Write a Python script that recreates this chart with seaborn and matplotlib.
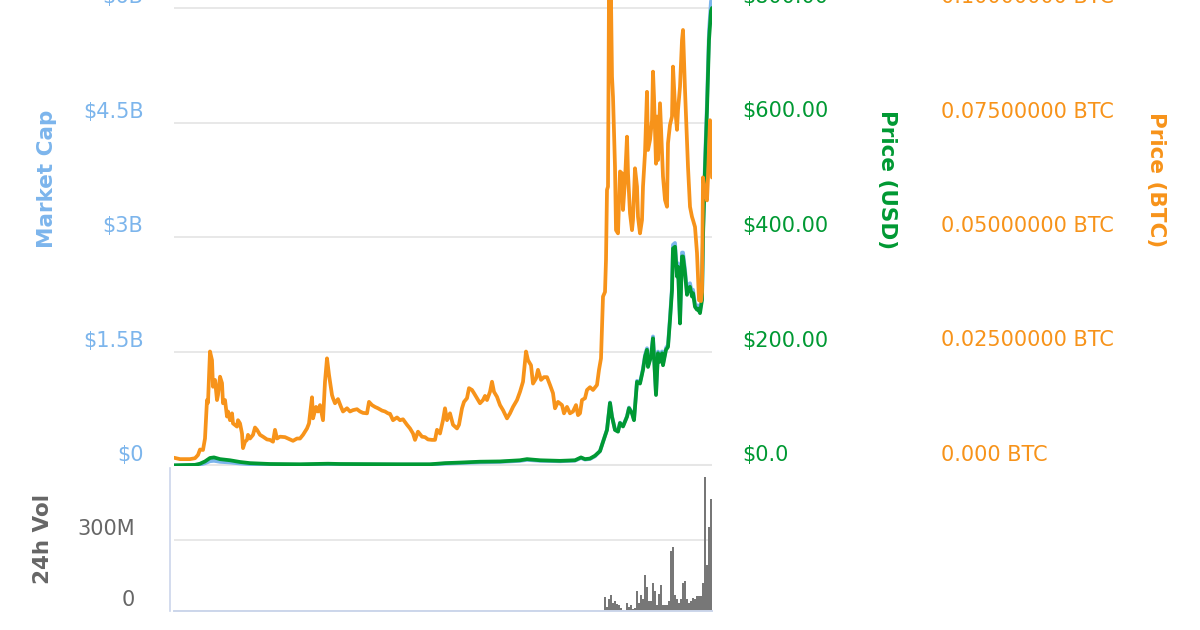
import pandas as pd
import numpy as np
import matplotlib
matplotlib.use('Agg')
import matplotlib.pyplot as plt
import matplotlib.transforms as mtransforms
import seaborn as sns

# time axis: day offsets from the first record
START = pd.Timestamp('2014-02-14')
END_DAY = 1345

# Price (BTC)
btc_days = [0, 15, 27.5, 40, 52.5, 60, 65, 72.5, 77.5, 82.5, 85, 90, 95, 97.5, 102.5, 107.5, 110,
            115, 120, 122.5, 127.5, 132.5, 135, 140, 145, 147.5, 157.5, 160, 165, 170, 172.5,
            177.5, 182.5, 185, 190, 197.5, 202.5, 207.5, 215, 222.5, 232.5, 240, 247.5, 252.5,
            257.5, 265, 277.5, 290, 297.5, 307.5, 315, 322.5, 332.5, 337.5, 345, 347.5, 355,
            360, 365, 372.5, 377.5, 382.5, 387.5, 395, 397.5, 402.5, 410, 417.5, 422.5, 432.5,
            440, 447.5, 457.5, 465, 472.5, 482.5, 487.5, 495, 502.5, 510, 520, 527.5, 535, 540,
            547.5, 557.5, 565, 572.5, 582.5, 590, 597.5, 602.5, 610, 620, 627.5, 635, 645,
            652.5, 657.5, 665, 672.5, 677.5, 682.5, 690, 697.5, 707.5, 712.5, 720, 725, 732.5,
            737.5, 745, 750, 757.5, 765, 772.5, 777.5, 782.5, 790, 795, 800, 807.5, 815, 822.5,
            832.5, 840, 847.5, 857.5, 865, 872.5, 880, 885, 892.5, 897.5, 905, 910, 917.5, 925,
            932.5, 940, 947.5, 952.5, 960, 970, 975, 982.5, 990, 997.5, 1005, 1010, 1015, 1020,
            1027.5, 1032.5, 1040, 1047.5, 1057.5, 1062.5, 1067.5, 1072.5, 1077.5, 1080, 1082.5,
            1085, 1087.5, 1090, 1092.5, 1095, 1097.5, 1102.5, 1105, 1110, 1115, 1120, 1122.5,
            1127.5, 1132.5, 1135, 1140, 1145, 1147.5, 1152.5, 1157.5, 1160, 1165, 1170, 1172.5,
            1177.5, 1182.5, 1185, 1190, 1195, 1197.5, 1200, 1205, 1207.5, 1210, 1215, 1220,
            1222.5, 1227.5, 1232.5, 1235, 1240, 1245, 1247.5, 1252.5, 1257.5, 1260, 1265, 1270,
            1272.5, 1277.5, 1282.5, 1285, 1290, 1295, 1297.5, 1302.5, 1307.5, 1312.5, 1317.5,
            1320, 1322.5, 1327.5, 1332.5, 1335, 1340, 1342.5, 1345]
btc_price = [0.0018, 0.0015, 0.0015, 0.0015, 0.0017, 0.0024, 0.0036, 0.0035, 0.0060, 0.0144, 0.0138,
             0.0250, 0.0231, 0.0173, 0.0188, 0.0144, 0.0155, 0.0195, 0.0181, 0.0137, 0.0144,
             0.0108, 0.0119, 0.0100, 0.0115, 0.0093, 0.0086, 0.0100, 0.0093, 0.0071, 0.0039,
             0.0053, 0.0057, 0.0068, 0.0060, 0.0068, 0.0084, 0.0079, 0.0068, 0.0064, 0.0058,
             0.0057, 0.0053, 0.0079, 0.0060, 0.0064, 0.0063, 0.0058, 0.0055, 0.0060, 0.0060,
             0.0068, 0.0082, 0.0093, 0.0150, 0.0104, 0.0129, 0.0119, 0.0133, 0.0100, 0.0184,
             0.0235, 0.0199, 0.0155, 0.0148, 0.0137, 0.0146, 0.0129, 0.0119, 0.0126, 0.0119,
             0.0122, 0.0124, 0.0119, 0.0116, 0.0115, 0.0140, 0.0133, 0.0129, 0.0126, 0.0121,
             0.0119, 0.0115, 0.0114, 0.0100, 0.0106, 0.0100, 0.0102, 0.0090, 0.0082, 0.0071,
             0.0057, 0.0075, 0.0064, 0.0063, 0.0058, 0.0057, 0.0057, 0.0079, 0.0071, 0.0100,
             0.0126, 0.0100, 0.0115, 0.0090, 0.0082, 0.0090, 0.0126, 0.0140, 0.0148, 0.0170,
             0.0166, 0.0159, 0.0148, 0.0137, 0.0144, 0.0153, 0.0144, 0.0162, 0.0184, 0.0162,
             0.0151, 0.0133, 0.0122, 0.0104, 0.0115, 0.0129, 0.0144, 0.0162, 0.0184, 0.0250,
             0.0231, 0.0220, 0.0180, 0.0191, 0.0210, 0.0188, 0.0194, 0.0194, 0.0177, 0.0159,
             0.0126, 0.0140, 0.0133, 0.0115, 0.0129, 0.0115, 0.0119, 0.0133, 0.0111, 0.0115,
             0.0144, 0.0148, 0.0166, 0.0172, 0.0166, 0.0177, 0.0210, 0.0235, 0.0370, 0.0380,
             0.0450, 0.0603, 0.0610, 0.1040, 0.0900, 0.1020, 0.0850, 0.0806, 0.0653, 0.0515,
             0.0508, 0.0643, 0.0639, 0.0559, 0.0624, 0.0719, 0.0639, 0.0552, 0.0515, 0.0537,
             0.0650, 0.0610, 0.0544, 0.0508, 0.0537, 0.0610, 0.0683, 0.0817, 0.0690, 0.0712,
             0.0755, 0.0861, 0.0806, 0.0660, 0.0763, 0.0668, 0.0792, 0.0683, 0.0632, 0.0581,
             0.0566, 0.0705, 0.0745, 0.0763, 0.0872, 0.0785, 0.0734, 0.0777, 0.0828, 0.0930,
             0.0952, 0.0821, 0.0705, 0.0653, 0.0566, 0.0544, 0.0537, 0.0522, 0.0465, 0.0362,
             0.0360, 0.0380, 0.0630, 0.0600, 0.0580, 0.0630, 0.0755, 0.0740, 0.0630]

# Price (USD) and Market Cap (billions), same dates
usd_days = [0, 52.5, 65, 77.5, 90, 100, 115, 140, 165, 190, 240, 315, 385, 415, 565, 640, 677.5,
            715, 765, 815, 865, 882.5, 915, 965, 1002.5, 1017.5, 1027.5, 1040, 1052.5, 1065,
            1072.5, 1082.5, 1090, 1095, 1102.5, 1110, 1115, 1122.5, 1132.5, 1137.5, 1145, 1150,
            1157.5, 1165, 1172.5, 1177.5, 1182.5, 1185, 1192.5, 1197.5, 1200, 1205, 1210, 1215,
            1220, 1222.5, 1230, 1235, 1240, 1245, 1247.5, 1252.5, 1257.5, 1260, 1265, 1270,
            1272.5, 1277.5, 1282.5, 1285, 1290, 1295, 1297.5, 1302.5, 1307.5, 1310, 1315, 1320,
            1322.5, 1327.5, 1332.5, 1337.5, 1342.5, 1345]
usd_price = [1.2, 2, 4, 8, 14, 15, 12, 10, 7, 5, 3.5, 3, 4, 3.5, 3, 3, 5, 6, 7.5, 8, 10, 12, 10, 9,
             10, 15, 12, 13, 18, 26, 42, 63, 110, 86, 63, 60, 75, 69, 86, 101, 92, 80, 147, 144,
             168, 191, 203, 173, 191, 223, 191, 124, 197, 182, 197, 176, 203, 208, 255, 307, 380,
             383, 331, 348, 249, 366, 366, 337, 299, 310, 313, 296, 302, 278, 273, 275, 267, 290,
             400, 520, 622, 744, 795, 800]
mcap_bn = [0.005, 0.009, 0.018, 0.036, 0.063, 0.068, 0.055, 0.046, 0.033, 0.024, 0.018, 0.016,
           0.022, 0.019, 0.018, 0.018, 0.031, 0.038, 0.048, 0.053, 0.067, 0.080, 0.068, 0.062,
           0.070, 0.105, 0.084, 0.092, 0.127, 0.196, 0.317, 0.476, 0.832, 0.650, 0.476, 0.454,
           0.568, 0.522, 0.652, 0.766, 0.697, 0.607, 1.116, 1.093, 1.277, 1.452, 1.543, 1.315,
           1.452, 1.697, 1.454, 0.944, 1.499, 1.387, 1.501, 1.341, 1.547, 1.585, 1.946, 2.342,
           2.899, 2.922, 2.526, 2.655, 1.902, 2.796, 2.796, 2.575, 2.284, 2.368, 2.394, 2.264,
           2.310, 2.127, 2.088, 2.104, 2.043, 2.221, 3.064, 3.983, 4.765, 5.699, 6.090, 6.128]

# 24h volume (millions), one bar every 5 days from day 1075
vol_first_day = 1075
vol_m = [60, 18, 49, 68, 35, 41, 30, 24, 13, 3, 2, 32, 18, 27, 10, 13, 84, 35, 68, 49,
         152, 103, 44, 44, 120, 84, 27, 70, 110, 27, 27, 27, 44, 255, 269, 68, 49, 32, 49, 117,
         127, 49, 35, 44, 56, 49, 63, 63, 63, 117, 565, 194, 356, 472]

tick_days = [302.5, 772.5, 1245]

mcap_ticks = [0, 1.5, 3, 4.5, 6]
mcap_labels = ['$0', '$1.5B', '$3B', '$4.5B', '$6B']
usd_ticks = [0, 200, 400, 600, 800]
usd_labels = ['$0.0', '$200.00', '$400.00', '$600.00', '$800.00']
btc_ticks = [0, 0.025, 0.05, 0.075, 0.1]
btc_labels = ['0.000 BTC', '0.02500000 BTC', '0.05000000 BTC', '0.07500000 BTC', '0.10000000 BTC']
vol_ticks = [0, 300]
vol_labels = ['0', '300M']

assert len(btc_days) == len(btc_price)
assert len(usd_days) == len(usd_price) == len(mcap_bn)

BLUE = '#7cb5ec'
GREEN = '#009933'
ORANGE = '#f7931a'
GREY = '#666666'
GRID = '#e6e6e6'
AXLINE = '#ccd6eb'
LW = 2.7

sns.set_style('white')
plt.rcParams['font.family'] = ['DejaVu Sans']

to_date = lambda d: START + pd.to_timedelta(np.asarray(d, dtype=float), unit='D')
btc_df = pd.DataFrame({'date': to_date(btc_days), 'btc': btc_price})
usd_df = pd.DataFrame({'date': to_date(usd_days), 'usd': usd_price, 'mcap': mcap_bn})
vol_dates = pd.date_range(START + pd.Timedelta(days=vol_first_day), periods=len(vol_m), freq='5D')

W, H = 1200, 630
fig = plt.figure(figsize=(12, 6.3), dpi=100)
# top pane: zero line at y=466 px, extends above the picture
ax = fig.add_axes([174 / W, (H - 466) / H, 538 / W, 496 / H])
ax_vol = fig.add_axes([174 / W, (H - 611) / H, 538 / W, 143 / H])
top_frac = 496 / 458  # value of picture top gridline -> axis limit

xlim = (START, START + pd.Timedelta(days=END_DAY))
line_kw = dict(linewidth=LW, solid_joinstyle='round', solid_capstyle='round')

# market cap (underneath)
sns.lineplot(data=usd_df, x='date', y='mcap', ax=ax, color=BLUE, **line_kw)
ax.set_ylim(0, 6 * top_frac)
ax.set_yticks(mcap_ticks)
ax.set_yticklabels(mcap_labels)
ax.yaxis.grid(True, color=GRID, linewidth=1.3)
ax.xaxis.grid(False)
ax.axhline(0, color=GRID, linewidth=2.9, zorder=0.5)
ax.tick_params(axis='y', length=0, pad=22, labelcolor=BLUE, labelsize=15)
ax.tick_params(axis='x', bottom=False, labelbottom=False)

ax_usd = ax.twinx()
sns.lineplot(data=usd_df, x='date', y='usd', ax=ax_usd, color=GREEN, **line_kw)
ax_usd.set_ylim(0, 800 * top_frac)
ax_usd.set_yticks(usd_ticks)
ax_usd.set_yticklabels(usd_labels)
ax_usd.tick_params(axis='y', length=0, pad=22, labelcolor=GREEN, labelsize=15)

ax_btc = ax.twinx()
sns.lineplot(data=btc_df, x='date', y='btc', ax=ax_btc, color=ORANGE, **line_kw)
ax_btc.set_ylim(0, 0.1 * top_frac)
ax_btc.set_yticks(btc_ticks)
ax_btc.set_yticklabels(btc_labels)
ax_btc.tick_params(axis='y', length=0, pad=165, labelcolor=ORANGE, labelsize=15)

for a in (ax, ax_usd, ax_btc):
    a.set_xlim(*xlim)
    a.set_xlabel('')
    a.set_ylabel('')
    for s in a.spines.values():
        s.set_visible(False)

# volume pane
ax_vol.bar(vol_dates, vol_m, width=5, align='edge', color='#777777', linewidth=0)
ax_vol.set_xlim(*xlim)
ax_vol.set_ylim(0, 300 * 143 / 71)
ax_vol.set_yticks(vol_ticks)
ax_vol.set_yticklabels(vol_labels)
ax_vol.yaxis.grid(True, color=GRID, linewidth=1.3)
ax_vol.set_axisbelow(True)
ax_vol.tick_params(axis='y', length=0, pad=25, labelcolor=GREY, labelsize=15)
ax_vol.set_xticks(to_date(tick_days))
ax_vol.tick_params(axis='x', direction='out', length=18, width=1.2, color=AXLINE,
                   labelbottom=False)
for side in ('top', 'right'):
    ax_vol.spines[side].set_visible(False)
ax_vol.spines['bottom'].set_color(AXLINE)
ax_vol.spines['bottom'].set_linewidth(1.4)
ax_vol.spines['left'].set_color(AXLINE)
ax_vol.spines['left'].set_linewidth(1.2)
ax_vol.spines['left'].set_position(('outward', 3))

# tick labels sit a little above their gridlines
lift = mtransforms.ScaledTranslation(0, 13 / 100, fig.dpi_scale_trans)
for a in (ax, ax_usd, ax_btc, ax_vol):
    for lbl in a.get_yticklabels():
        lbl.set_transform(lbl.get_transform() + lift)

title_kw = dict(ha='center', va='center', fontsize=15.5, fontweight='bold')
fig.text(47 / W, 1 - 179 / H, 'Market Cap', rotation=90, color=BLUE, **title_kw)
fig.text(887 / W, 1 - 179.5 / H, 'Price (USD)', rotation=270, color=GREEN, **title_kw)
fig.text(1156 / W, 1 - 179.5 / H, 'Price (BTC)', rotation=270, color=ORANGE, **title_kw)
fig.text(43 / W, 1 - 539 / H, '24h Vol', rotation=90, color=GREY, **title_kw)

fig.savefig('out.png', dpi=100)
plt.close()
